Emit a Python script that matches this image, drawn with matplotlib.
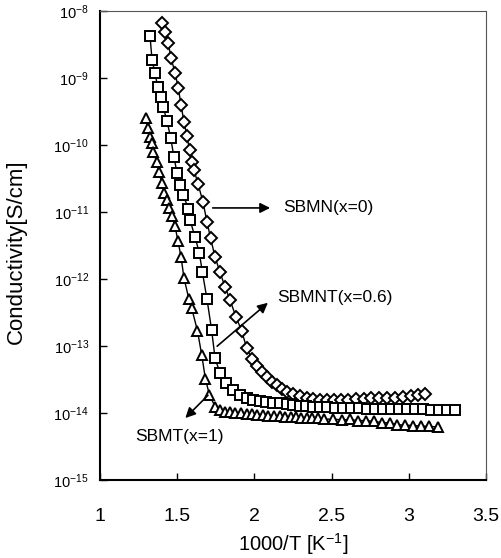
import matplotlib
matplotlib.use("Agg")
import matplotlib.pyplot as plt
from matplotlib.ticker import LogLocator, NullLocator, FixedLocator, FixedFormatter

plt.rcParams['font.family'] = ['Liberation Sans', 'DejaVu Sans']
plt.rcParams['mathtext.fontset'] = 'custom'
plt.rcParams['mathtext.rm'] = 'Liberation Sans'
plt.rcParams['mathtext.it'] = 'Liberation Sans'

# ---- data (1000/T [1/K], conductivity [S/cm]) ----
sbmn_x = [1.400, 1.424, 1.442, 1.460, 1.486, 1.507, 1.525, 1.544, 1.563, 1.580,
          1.596, 1.609, 1.635, 1.667, 1.693, 1.716, 1.745, 1.777, 1.810, 1.842,
          1.881, 1.918, 1.950, 1.984, 2.017, 2.049, 2.082, 2.114, 2.146, 2.179,
          2.211, 2.250, 2.295, 2.341, 2.380, 2.425, 2.470, 2.516, 2.561, 2.606,
          2.658, 2.710, 2.755, 2.807, 2.859, 2.911, 2.962, 3.014, 3.060, 3.105]
sbmn_y = [6.7e-9, 4.9e-9, 3.3e-9, 2.0e-9, 1.19e-9, 7.1e-10, 3.95e-10, 2.2e-10, 1.36e-10, 8.4e-11,
          5.6e-11, 4.24e-11, 2.62e-11, 1.41e-11, 7.1e-12, 4.1e-12, 2.13e-12, 1.27e-12, 7.6e-13, 4.86e-13,
          2.71e-13, 1.67e-13, 9.3e-14, 6.4e-14, 5.0e-14, 4.09e-14, 3.44e-14, 2.90e-14, 2.62e-14, 2.28e-14,
          2.06e-14, 1.92e-14, 1.79e-14, 1.68e-14, 1.62e-14, 1.56e-14, 1.54e-14, 1.54e-14, 1.56e-14, 1.59e-14,
          1.62e-14, 1.62e-14, 1.65e-14, 1.68e-14, 1.68e-14, 1.68e-14, 1.73e-14, 1.79e-14, 1.86e-14, 1.92e-14]

sbmnt_x = [1.324, 1.337, 1.356, 1.374, 1.393, 1.410, 1.434, 1.458, 1.479, 1.499,
           1.518, 1.540, 1.572, 1.583, 1.615, 1.643, 1.663, 1.693, 1.723, 1.745,
           1.777, 1.816, 1.861, 1.907, 1.949, 1.991, 2.036, 2.078, 2.120, 2.166,
           2.208, 2.250, 2.295, 2.337, 2.380, 2.425, 2.470, 2.522, 2.574, 2.626,
           2.677, 2.729, 2.781, 2.833, 2.885, 2.937, 2.988, 3.040, 3.092, 3.144,
           3.196, 3.247, 3.299]
sbmnt_y = [4.24e-9, 1.86e-9, 1.19e-9, 7.3e-10, 5.2e-10, 3.63e-10, 2.28e-10, 1.27e-10, 6.6e-11, 3.82e-11,
           2.53e-11, 1.79e-11, 1.11e-11, 7.6e-12, 4.28e-12, 2.47e-12, 1.27e-12, 5.0e-13, 1.73e-13, 6.6e-14,
           3.96e-14, 2.85e-14, 2.20e-14, 1.86e-14, 1.68e-14, 1.56e-14, 1.51e-14, 1.46e-14, 1.41e-14, 1.39e-14,
           1.36e-14, 1.32e-14, 1.29e-14, 1.27e-14, 1.25e-14, 1.23e-14, 1.21e-14, 1.19e-14, 1.19e-14, 1.17e-14,
           1.17e-14, 1.15e-14, 1.15e-14, 1.15e-14, 1.15e-14, 1.15e-14, 1.13e-14, 1.13e-14, 1.13e-14, 1.11e-14,
           1.11e-14, 1.11e-14, 1.11e-14]

sbmt_x = [1.301, 1.309, 1.324, 1.335, 1.345, 1.367, 1.382, 1.400, 1.414, 1.432,
          1.447, 1.468, 1.486, 1.505, 1.525, 1.544, 1.576, 1.594, 1.631, 1.659,
          1.683, 1.709, 1.745, 1.777, 1.810, 1.842, 1.877, 1.913, 1.949, 1.984,
          2.020, 2.056, 2.091, 2.127, 2.163, 2.198, 2.234, 2.269, 2.305, 2.341,
          2.376, 2.412, 2.451, 2.509, 2.567, 2.619, 2.671, 2.723, 2.775, 2.826,
          2.878, 2.924, 2.975, 3.027, 3.079, 3.134, 3.189]
sbmt_y = [2.5e-10, 1.77e-10, 1.32e-10, 1.06e-10, 7.9e-11, 5.6e-11, 3.95e-11, 2.71e-11, 1.95e-11, 1.51e-11,
          1.15e-11, 8.7e-12, 6.1e-12, 3.69e-12, 2.13e-12, 1.03e-12, 5.0e-13, 3.65e-13, 1.70e-13, 7.3e-14,
          3.21e-14, 1.86e-14, 1.25e-14, 1.11e-14, 1.05e-14, 1.02e-14, 1.00e-14, 9.84e-15, 9.66e-15, 9.5e-15,
          9.3e-15, 9.2e-15, 9.0e-15, 9.0e-15, 8.9e-15, 8.7e-15, 8.7e-15, 8.6e-15, 8.4e-15, 8.4e-15,
          8.3e-15, 8.3e-15, 8.1e-15, 8.1e-15, 7.9e-15, 8.0e-15, 7.7e-15, 7.7e-15, 7.5e-15, 7.2e-15,
          7.1e-15, 6.7e-15, 6.6e-15, 6.5e-15, 6.4e-15, 6.3e-15, 6.2e-15]

x_ticks = [1, 1.5, 2, 2.5, 3, 3.5]
x_tick_labels = ['1', '1.5', '2', '2.5', '3', '3.5']

labels = ['SBMN(x=0)', 'SBMNT(x=0.6)', 'SBMT(x=1)']

fig = plt.figure(figsize=(5.01, 5.58), dpi=100)
ax = fig.add_axes([100/501, 1-480/558, 386/501, 469/558])

common = dict(color='black', lw=1.0, mfc='white', mec='black', mew=1.4)
ax.plot(sbmn_x, sbmn_y, marker='D', ms=6, **common)
ax.plot(sbmnt_x, sbmnt_y, marker='s', ms=7.5, **common)
ax.plot(sbmt_x, sbmt_y, marker='^', ms=7, **common)

ax.set_yscale('log')
ax.set_xlim(1, 3.5)
ax.set_ylim(1e-15, 1e-8)
ax.yaxis.set_major_locator(LogLocator(base=10, numticks=20))
ax.yaxis.set_minor_locator(NullLocator())
ax.xaxis.set_major_locator(FixedLocator(x_ticks))
ax.xaxis.set_major_formatter(FixedFormatter(x_tick_labels))
ax.tick_params(axis='x', direction='in', length=5, width=1, pad=20, labelsize=14)
ax.tick_params(axis='y', direction='in', length=5, width=1, pad=8, labelsize=10.5)

for s in ['left', 'bottom']:
    ax.spines[s].set_linewidth(1.5)
for s in ['top', 'right']:
    ax.spines[s].set_linestyle((0, (1, 1)))
    ax.spines[s].set_linewidth(0.8)
    ax.spines[s].set_color('#555555')

ax.set_xlabel('1000/T [K$^{-1}$]', fontsize=14.5)
ax.xaxis.set_label_coords(0.5, -0.11)
ax.set_ylabel('Conductivity[S/cm]', fontsize=16)
ax.yaxis.set_label_coords(-0.19, 0.486)

arrow = dict(arrowstyle='-|>', color='black', lw=1.2, mutation_scale=15)
ax.annotate('', xy=(2.120, 1.15e-11), xytext=(1.712, 1.15e-11), arrowprops=arrow)
ax.text(2.185, 1.15e-11, labels[0], fontsize=12.5, va='center', ha='left')
ax.annotate('', xy=(2.101, 10**-12.328), xytext=(1.745, 10**-13.03), arrowprops=arrow)
ax.text(2.146, 10**-12.28, labels[1], fontsize=12.5, va='center', ha='left')
ax.annotate('', xy=(1.540, 10**-14.104), xytext=(1.712, 10**-13.706), arrowprops=arrow)
ax.text(1.227, 10**-14.358, labels[2], fontsize=12.5, va='center', ha='left')

fig.savefig('out.png', dpi=100)
